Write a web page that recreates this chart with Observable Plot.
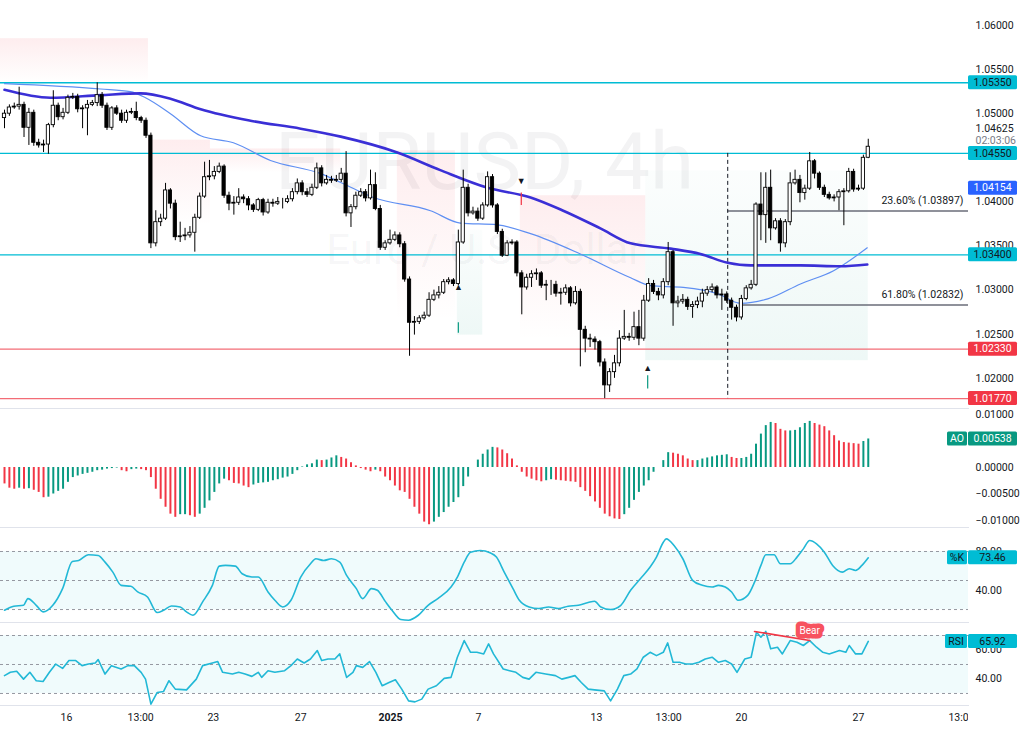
<!DOCTYPE html>
<html><head><meta charset="utf-8">
<script src="https://cdn.jsdelivr.net/npm/d3@7"></script>
<script src="https://cdn.jsdelivr.net/npm/@observablehq/plot@0.6"></script>
<style>
body{margin:0;background:#fff;width:1024px;height:730px;overflow:hidden;}
#chart svg{display:block;}
</style></head><body><div id="chart"></div>
<script>
// ---------------- DATA (EUR/USD 4h) ----------------
const firstOpen = 1.0495;
const close = [
1.0500,1.0507,1.0508,1.0510,1.0484,1.0501,1.0467,1.0464,1.0465,1.0487,
1.0509,1.0496,1.0501,1.0518,1.0519,1.0505,1.0506,1.0510,1.0512,1.0521,
1.0509,1.0484,1.0506,1.0500,1.0492,1.0501,1.0502,1.0495,1.0492,1.0475,
1.0353,1.0377,1.0381,1.0413,1.0398,1.0360,1.0361,1.0362,1.0365,1.0382,
1.0406,1.0428,1.0429,1.0434,1.0440,1.0407,1.0398,1.0399,1.0405,1.0403,
1.0396,1.0391,1.0402,1.0388,1.0399,1.0398,1.0400,1.0400,1.0403,1.0411,
1.0421,1.0411,1.0408,1.0416,1.0438,1.0421,1.0425,1.0424,1.0425,1.0432,
1.0387,1.0394,1.0407,1.0411,1.0404,1.0419,1.0392,1.0348,1.0353,1.0357,
1.0362,1.0352,1.0312,1.0263,1.0264,1.0268,1.0271,1.0289,1.0294,1.0297,
1.0309,1.0311,1.0307,1.0354,1.0416,1.0387,1.0389,1.0381,1.0396,1.0428,
1.0396,1.0366,1.0339,1.0353,1.0354,1.0319,1.0303,1.0314,1.0318,1.0319,
1.0305,1.0306,1.0306,1.0296,1.0297,1.0302,1.0285,1.0298,1.0255,1.0245,
1.0244,1.0241,1.0218,1.0192,1.0207,1.0217,1.0245,1.0247,1.0246,1.0258,
1.0245,1.0288,1.0307,1.0298,1.0294,1.0309,1.0343,1.0285,1.0287,1.0289,
1.0281,1.0283,1.0287,1.0296,1.0300,1.0303,1.0294,1.0295,1.0288,1.0280,
1.0269,1.0290,1.0302,1.0306,1.0397,1.0385,1.0416,1.0370,1.0378,1.0353,
1.0377,1.0421,1.0425,1.0410,1.0415,1.0446,1.0432,1.0416,1.0408,1.0404,
1.0405,1.0411,1.0412,1.0434,1.0414,1.0415,1.0450,1.04625];
const high = [
1.0504,1.0510,1.0512,1.0530,1.0513,1.0506,1.0504,1.0471,1.0470,1.0489,
1.0526,1.0512,1.0506,1.0521,1.0523,1.0522,1.0509,1.0515,1.0515,1.0535,
1.0524,1.0512,1.0508,1.0509,1.0504,1.0504,1.0506,1.0513,1.0497,1.0495,
1.0478,1.0390,1.0386,1.0421,1.0415,1.0402,1.0377,1.0370,1.0372,1.0386,
1.0410,1.0445,1.0447,1.0440,1.0444,1.0442,1.0411,1.0406,1.0415,1.0408,
1.0406,1.0398,1.0404,1.0404,1.0403,1.0403,1.0405,1.0404,1.0407,1.0415,
1.0426,1.0424,1.0415,1.0420,1.0444,1.0441,1.0430,1.0429,1.0430,1.0438,
1.0457,1.0397,1.0411,1.0415,1.0414,1.0436,1.0433,1.0396,1.0356,1.0368,
1.0366,1.0365,1.0355,1.0315,1.0270,1.0271,1.0275,1.0297,1.0300,1.0304,
1.0312,1.0314,1.0313,1.0368,1.0436,1.0420,1.0394,1.0393,1.0399,1.0434,
1.0431,1.0398,1.0369,1.0356,1.0357,1.0356,1.0322,1.0318,1.0322,1.0324,
1.0321,1.0311,1.0311,1.0310,1.0302,1.0306,1.0304,1.0304,1.0301,1.0259,
1.0250,1.0247,1.0243,1.0222,1.0211,1.0226,1.0254,1.0277,1.0251,1.0275,
1.0277,1.0294,1.0313,1.0311,1.0302,1.0313,1.0354,1.0345,1.0293,1.0295,
1.0292,1.0287,1.0292,1.0301,1.0304,1.0307,1.0305,1.0301,1.0298,1.0291,
1.0283,1.0294,1.0305,1.0311,1.0399,1.0433,1.0433,1.0436,1.0381,1.0381,
1.0380,1.0433,1.0436,1.0430,1.0419,1.0456,1.0448,1.0434,1.0419,1.0411,
1.0408,1.0414,1.0415,1.0438,1.0437,1.0419,1.0453,1.0471];
const low = [
1.0483,1.0497,1.0505,1.0504,1.0473,1.0464,1.0463,1.0461,1.0456,1.0454,
1.0484,1.0492,1.0493,1.0499,1.0516,1.0501,1.0483,1.0475,1.0508,1.0508,
1.0506,1.0481,1.0481,1.0498,1.0489,1.0489,1.0499,1.0492,1.0489,1.0472,
1.0347,1.0349,1.0372,1.0379,1.0392,1.0356,1.0354,1.0356,1.0359,1.0343,
1.0380,1.0404,1.0424,1.0425,1.0432,1.0404,1.0390,1.0385,1.0396,1.0398,
1.0390,1.0388,1.0389,1.0384,1.0386,1.0394,1.0396,1.0392,1.0398,1.0400,
1.0408,1.0407,1.0405,1.0406,1.0414,1.0417,1.0419,1.0421,1.0422,1.0422,
1.0383,1.0371,1.0391,1.0405,1.0400,1.0402,1.0390,1.0345,1.0345,1.0351,
1.0355,1.0348,1.0309,1.0225,1.0249,1.0261,1.0266,1.0269,1.0287,1.0290,
1.0295,1.0306,1.0304,1.0305,1.0352,1.0383,1.0385,1.0378,1.0379,1.0394,
1.0393,1.0363,1.0337,1.0338,1.0351,1.0315,1.0272,1.0300,1.0303,1.0311,
1.0302,1.0288,1.0294,1.0292,1.0283,1.0294,1.0281,1.0283,1.0213,1.0229,
1.0235,1.0232,1.0213,1.0177,1.0184,1.0200,1.0213,1.0243,1.0242,1.0243,
1.0237,1.0242,1.0286,1.0295,1.0288,1.0290,1.0305,1.0259,1.0280,1.0284,
1.0277,1.0268,1.0279,1.0280,1.0293,1.0297,1.0290,1.0277,1.0285,1.0266,
1.0264,1.0266,1.0288,1.0300,1.0304,1.0356,1.0353,1.0356,1.0368,1.0343,
1.0348,1.0373,1.0419,1.0399,1.0402,1.0413,1.0426,1.0413,1.0405,1.0402,
1.0400,1.0390,1.0373,1.0410,1.0411,1.0412,1.0413,1.0449];

// moving averages (bar index, value)
const maSlowI = [0,9.4,19.7,27.9,34,40.2,50.4,60.7,68.9,80.5,89.3,99,107.8,114.5,122.1,128.3,136.5,142.6,148.2,152.9,163.1,171.3,176.8];
const maSlowV = [1.0527,1.0518,1.0521,1.0523,1.0517,1.0505,1.0492,1.0483,1.0474,1.0456,1.0436,1.0416,1.0405,1.0390,1.0370,1.0353,1.0347,1.0341,1.0331,1.0328,1.0328,1.0327,1.0329];
const maFastI = [0,19.7,25.8,28.9,34,40.2,46.9,54.5,64.8,68.9,75.6,87.3,93.4,101,107.8,118,128.3,132.4,139.1,146.1,150.8,156.4,163.1,169.9,176.8];
const maFastV = [1.0534,1.0528,1.0525,1.0518,1.0500,1.0475,1.0467,1.0447,1.0432,1.0422,1.0405,1.0390,1.0376,1.0374,1.0364,1.0341,1.0314,1.0305,1.0303,1.0296,1.0285,1.0290,1.0307,1.0322,1.0348];

// trend-cloud shading zones (start bar, end bar, top price, bottom price)
const bearZoneS = [-0.82, 29.5, 42.2, 80.5, 105.7];
const bearZoneE = [29.5, 42.2, 68.9, 92.4, 131.4];
const bearZoneT = [1.0585, 1.0470, 1.0460, 1.0458, 1.0407];
const bearZoneB = [1.0535, 1.0373, 1.0433, 1.0265, 1.0243];
const bullZoneS = [92.8, 131.4];
const bullZoneE = [98.0, 177.0];
const bullZoneT = [1.0368, 1.0435];
const bullZoneB = [1.0249, 1.0220];

// horizontal levels
const cyanLevels = [1.0535, 1.0455, 1.0340];
const redLevels = [1.0233, 1.0177];
const blueLabel = 1.04154;
const fibLabel = ["23.60%", "61.80%"];
const fibPrice = [1.03897, 1.02832];
const fibStartI = [148.2, 150.8];
const swingLineI = 148.2;
const swingTop = 1.0455, swingBottom = 1.0177;
const countdown = "02:03:06";

// fractal markers
const upMarkI = [93, 131.8], upMarkP = [1.0303, 1.0212], upTickTop = [1.0263, 1.0203], upTickBot = [1.0251, 1.0188];
const dnMarkI = [105.9], dnMarkP = [1.0423], dnTickTop = [1.0410], dnTickBot = [1.0396];

// Awesome Oscillator
const ao = [
-0.0031,-0.0039,-0.0041,-0.0039,-0.0041,-0.0040,-0.0043,-0.0047,-0.0057,-0.0056,
-0.0050,-0.0045,-0.0041,-0.0028,-0.0019,-0.0016,-0.0013,-0.0011,-0.0009,-0.0006,
-0.0005,-0.0003,-0.0002,-0.0001,-0.0006,-0.0008,-0.0004,-0.0003,-0.0004,-0.0006,
-0.0019,-0.0041,-0.0060,-0.0075,-0.0088,-0.0094,-0.0089,-0.0089,-0.0091,-0.0094,
-0.0088,-0.0077,-0.0063,-0.0047,-0.0031,-0.0022,-0.0025,-0.0030,-0.0031,-0.0035,
-0.0038,-0.0033,-0.0030,-0.0029,-0.0028,-0.0025,-0.0023,-0.0020,-0.0018,-0.0013,
-0.0006,0.0001,0.0005,0.0007,0.0014,0.0013,0.0014,0.0018,0.0022,0.0019,
0.0016,0.0009,0.0003,-0.0002,-0.0005,-0.0008,-0.0005,-0.0008,-0.0018,-0.0025,
-0.0035,-0.0044,-0.0047,-0.0060,-0.0075,-0.0088,-0.0103,-0.0108,-0.0103,-0.0094,
-0.0085,-0.0075,-0.0066,-0.0057,-0.0036,-0.0018,0.0000,0.0014,0.0025,0.0033,
0.0038,0.0037,0.0033,0.0026,0.0016,0.0003,-0.0009,-0.0018,-0.0022,-0.0025,
-0.0027,-0.0025,-0.0023,-0.0024,-0.0025,-0.0026,-0.0027,-0.0028,-0.0038,-0.0045,
-0.0055,-0.0065,-0.0077,-0.0088,-0.0093,-0.0097,-0.0098,-0.0089,-0.0077,-0.0062,
-0.0047,-0.0035,-0.0025,-0.0009,0.0000,0.0013,0.0028,0.0027,0.0025,0.0022,
0.0016,0.0013,0.0013,0.0016,0.0018,0.0020,0.0022,0.0023,0.0024,0.0019,
0.0017,0.0017,0.0019,0.0025,0.0044,0.0063,0.0079,0.0085,0.0083,0.0072,
0.0069,0.0069,0.0070,0.0075,0.0083,0.0087,0.0083,0.0080,0.0077,0.0069,
0.0060,0.0050,0.0047,0.0046,0.0045,0.0044,0.0049,0.00538];

// Stochastic %K (bar index, value)
const stochI = [0,1.9,3.9,4.8,6.5,7.9,9.9,11.9,13.9,15.2,17.2,19.2,20.6,22.2,23.9,25.9,27.3,29.3,31.3,32.6,34.2,36.0,37.3,38.6,40.6,42.6,44.0,45.3,47.3,48.7,50.7,52.0,54.0,55.4,57.0,58.7,60.7,62.7,63.8,65.4,67.0,68.7,70.1,72.1,73.4,75.2,76.4,78.1,79.4,81.2,82.8,84.8,86.8,88.8,91.5,92.8,94.2,95.5,97.5,99.5,100.8,102.4,104.2,105.5,107.5,109.5,111.5,113.5,115.5,117.6,119.6,120.9,122.2,124.2,126.3,128.3,130.3,132.3,133.6,135.0,135.6,137.2,139.0,141.0,143.0,145.0,146.3,147.7,149.0,150.3,152.3,153.7,155.0,156.0,157.7,159.0,161.0,162.4,163.7,165.0,166.4,168.0,169.7,171.7,173.1,174.4,175.7,177];
const stochV = [19.3,23.4,24.4,31.3,24.4,17.6,24.4,41.6,69.7,70.7,76.6,75.9,69.0,58.7,45.0,44.0,38.2,33.0,16.9,19.3,23.7,22.7,17.6,14.1,27.9,45.0,64.9,65.6,64.9,57.0,53.6,53.6,38.2,29.6,22.7,29.6,53.6,67.3,72.5,70.7,72.5,69.0,55.3,41.6,31.3,41.6,39.9,27.9,19.3,9.7,9.0,14.1,24.4,31.3,43.3,53.6,69.0,79.3,81.0,78.6,74.2,58.7,41.6,29.6,22.7,21.0,22.7,21.0,23.4,24.4,27.2,28.6,22.7,20.0,24.4,39.9,51.9,63.9,74.2,89.6,93.0,86.2,72.5,50.2,45.0,43.3,45.0,43.3,38.2,29.6,34.7,48.4,65.6,76.6,76.6,67.3,67.3,74.2,82.7,91.3,87.9,79.3,65.6,58.7,62.2,60.4,65.6,73.46];
const stochLevels = [80, 50, 20];

// RSI (bar index, value)
const rsiI = [0,1.2,2.5,3.9,5.2,6.5,7.9,9.2,10.5,11.9,13.2,14.6,15.9,17.2,18.6,19.2,20.6,21.9,23.9,25.3,26.6,28.0,28.9,30.0,31.3,32.6,33.7,35.0,37.3,39.3,40.6,42.6,43.7,44.7,46.7,48.0,49.3,50.7,52.0,52.7,54.0,55.4,57.4,58.7,60.0,61.4,62.7,64.1,65.0,66.3,67.7,68.7,70.1,71.4,72.1,73.4,74.8,76.1,77.4,78.8,80.1,81.4,82.8,84.1,85.5,86.8,88.5,90.1,91.5,92.8,94.2,95.5,96.8,98.2,99.2,100.2,102.2,103.5,104.8,106.2,107.5,108.9,110.9,112.9,114.2,115.6,116.9,118.2,119.6,120.9,122.9,124.2,125.6,126.9,128.3,129.6,130.9,132.3,133.6,135.0,135.9,137.0,138.3,139.6,141.0,142.3,143.6,145.0,146.3,147.7,149.0,150.1,151.7,153.0,154.1,155.0,156.0,157.0,158.4,159.4,161.0,162.4,163.7,165.0,166.4,167.7,169.0,171.1,172.4,173.1,174.4,175.7,177];
const rsiV = [42.3,44.6,45.3,39.9,44.6,38.8,38.3,44.6,50.3,47.3,52.7,52.7,49.2,50.3,51.0,53.4,43.4,49.2,46.9,49.2,49.2,44.6,39.9,22.6,30.7,31.4,38.8,33.0,32.5,39.9,49.2,51.0,52.0,44.6,43.4,44.6,43.4,41.8,44.6,41.1,45.7,44.6,45.7,49.2,53.8,51.0,53.8,59.6,52.7,53.8,53.8,57.3,41.1,44.6,49.2,48.0,52.0,44.6,35.3,37.6,39.5,33.0,24.9,24.2,26.1,33.0,35.3,40.4,41.1,55.0,66.5,58.4,58.4,57.3,64.2,57.3,46.9,45.7,44.6,41.1,39.9,44.6,43.4,42.3,39.9,41.1,42.3,37.6,33.0,32.5,31.8,24.9,33.0,42.3,43.4,46.9,55.0,58.4,56.1,58.4,64.9,51.5,51.5,50.3,50.3,51.5,53.8,55.0,51.5,52.7,50.3,44.6,53.8,55.0,72.3,68.8,72.8,60.8,61.9,57.3,66.5,65.4,63.1,66.5,61.9,58.4,57.3,59.6,58.4,63.1,57.3,57.3,65.92];
const rsiLevels = [70, 50, 30];
const bearI = [153.7, 165.0], bearV = [72.8, 66.5];

// x axis ticks (bar-index position, label)
const xTickI = [12.7, 27.9, 42.8, 60.7, 79.1, 97.1, 121.3, 136.1, 151.0, 175.0, 196.1];
const xTickLab = ["16","13:00","23","27","2025","7","13","13:00","20","27","13:00"];

// axis ticks
const priceTicks = [1.06, 1.055, 1.05, 1.04, 1.035, 1.03, 1.025, 1.02];
const aoTicks = [0.01, 0, -0.005, -0.01];
const stochTicks = [80, 40];
const rsiTicks = [60, 40];

// ---------------- BUILD ----------------
const FONT = 'Roboto, "Liberation Sans", sans-serif';
const DARK = "#131722", CYAN = "#00bcd4", RED = "#f23645", GREEN = "#089981", LINE = "#22b8d6";
const W = 1024, MR = 56;
const xDomain = [-0.82, 197.54];
const style = {background: "transparent", overflow: "visible", fontFamily: FONT, fontSize: "10.5px", color: DARK};
const f5 = d3.format(".5f"), f2 = d3.format(".2f");

const candles = close.map((c, i) => ({i, o: i === 0 ? firstOpen : close[i - 1], c, h: high[i], l: low[i]}));
const maSlow = maSlowI.map((i, k) => ({i, v: maSlowV[k]}));
const maFast = maFastI.map((i, k) => ({i, v: maFastV[k]}));
const bearZones = bearZoneS.map((s, k) => ({s, e: bearZoneE[k], t: bearZoneT[k], b: bearZoneB[k]}));
const bullZones = bullZoneS.map((s, k) => ({s, e: bullZoneE[k], t: bullZoneT[k], b: bullZoneB[k]}));
const fib = fibLabel.map((label, k) => ({label, p: fibPrice[k], start: fibStartI[k]}));
const upMarks = upMarkI.map((i, k) => ({i, p: upMarkP[k], t1: upTickTop[k], t2: upTickBot[k]}));
const dnMarks = dnMarkI.map((i, k) => ({i, p: dnMarkP[k], t1: dnTickTop[k], t2: dnTickBot[k]}));
const aoData = ao.map((v, i) => ({i, v, up: i > 0 && v >= ao[i - 1]}));
const stoch = stochI.map((i, k) => ({i, v: stochV[k]}));
const rsi = rsiI.map((i, k) => ({i, v: rsiV[k]}));
const bear = bearI.map((i, k) => ({i, v: bearV[k]}));
const xTicks = xTickI.map((i, k) => ({i, label: xTickLab[k]}));

function gradients() {
  return () => {
    const defs = d3.create("svg:defs");
    const p = defs.append("linearGradient").attr("id", "gPink").attr("x1", 0).attr("y1", 0).attr("x2", 0).attr("y2", 1);
    p.append("stop").attr("offset", "0%").attr("stop-color", RED).attr("stop-opacity", 0.09);
    p.append("stop").attr("offset", "100%").attr("stop-color", RED).attr("stop-opacity", 0.0);
    const g = defs.append("linearGradient").attr("id", "gGreen").attr("x1", 0).attr("y1", 1).attr("x2", 0).attr("y2", 0);
    g.append("stop").attr("offset", "0%").attr("stop-color", GREEN).attr("stop-opacity", 0.07);
    g.append("stop").attr("offset", "100%").attr("stop-color", GREEN).attr("stop-opacity", 0.015);
    return defs.node();
  };
}

function boxes(items) {
  return (index, scales, values, dims) => {
    const g = d3.create("svg:g").attr("font-family", FONT).attr("font-size", 10.5);
    const x0 = dims.width - dims.marginRight;
    for (const it of items) {
      const y = scales.y(it.value);
      if (it.tag) {
        g.append("rect").attr("x", x0 - it.tagW - 1).attr("y", y - 7).attr("width", it.tagW).attr("height", 14).attr("fill", it.bg).attr("rx", 1.5);
        g.append("text").attr("x", x0 - 1 - it.tagW / 2).attr("y", y).attr("dy", "0.35em").attr("text-anchor", "middle").attr("fill", it.fg).text(it.tag);
      }
      g.append("rect").attr("x", x0).attr("y", y - 7).attr("width", 49).attr("height", 14).attr("fill", it.bg).attr("rx", 1.5);
      g.append("text").attr("x", x0 + 24.5).attr("y", y).attr("dy", "0.35em").attr("text-anchor", "middle").attr("fill", it.fg).text(it.text);
    }
    return g.node();
  };
}

// covers the price-scale column so that the last time label is cut at the pane edge
function scaleColumnCover() {
  return (index, scales, values, dims) => {
    const g = d3.create("svg:g");
    g.append("rect").attr("x", dims.width - dims.marginRight).attr("y", 1).attr("width", dims.marginRight).attr("height", dims.height).attr("fill", "#fff");
    return g.node();
  };
}

const chart = document.getElementById("chart");
const sep = "#e0e3eb";

// main price panel
chart.append(Plot.plot({
  width: W, height: 408, marginLeft: 0, marginRight: MR, marginTop: 0, marginBottom: 0, style,
  x: {domain: xDomain, axis: null},
  y: {domain: [1.01658, 1.06283], axis: "right", ticks: priceTicks, tickFormat: f5, tickSize: 0, tickPadding: 7, label: null},
  marks: [
    gradients(),
    Plot.rect(bearZones, {x1: "s", x2: "e", y1: "t", y2: "b", fill: "url(#gPink)"}),
    Plot.rect(bullZones, {x1: "s", x2: "e", y1: "t", y2: "b", fill: "url(#gGreen)"}),
    Plot.text(["EURUSD, 4h"], {text: d => d, frameAnchor: "top", dy: 163, lineAnchor: "middle", fontSize: 80, fill: DARK, fillOpacity: 0.05}),
    Plot.text(["Euro / U.S. Dollar"], {text: d => d, frameAnchor: "top", dy: 250, lineAnchor: "middle", fontSize: 42, fill: DARK, fillOpacity: 0.05}),
    Plot.ruleY(cyanLevels, {stroke: CYAN, strokeWidth: 1.4}),
    Plot.ruleY(redLevels, {stroke: "#f36c76", strokeWidth: 1.2}),
    Plot.ruleY(fib, {y: "p", x1: "start", x2: xDomain[1], stroke: "#6a6d78", strokeWidth: 1.6}),
    Plot.text(fib, {x: xDomain[1], y: "p", text: d => `${d.label} (${f5(d.p)})`, textAnchor: "end", dx: -5, dy: -10, fill: DARK, fontSize: 10.5}),
    Plot.ruleX([swingLineI], {y1: swingTop, y2: swingBottom, stroke: DARK, strokeDasharray: "4,3", strokeWidth: 1}),
    Plot.line(maFast, {x: "i", y: "v", stroke: "#5f8ff2", strokeWidth: 1.2, curve: "monotone-x"}),
    Plot.line(maSlow, {x: "i", y: "v", stroke: "#3a2fd6", strokeWidth: 2.6, curve: "monotone-x"}),
    Plot.ruleX(upMarks, {x: "i", y1: "t1", y2: "t2", stroke: GREEN, strokeWidth: 1.2}),
    Plot.ruleX(dnMarks, {x: "i", y1: "t1", y2: "t2", stroke: RED, strokeWidth: 1.2}),
    Plot.text(upMarks, {x: "i", y: "p", text: () => "▲", fontSize: 9, fill: DARK}),
    Plot.text(dnMarks, {x: "i", y: "p", text: () => "▼", fontSize: 9, fill: DARK}),
    Plot.ruleX(candles, {x: "i", y1: "l", y2: "h", stroke: "#000", strokeWidth: 1}),
    Plot.rect(candles, {x1: d => d.i - 0.33, x2: d => d.i + 0.33, y1: "o", y2: "c", fill: d => d.c >= d.o ? "#fff" : "#000", stroke: "#000", strokeWidth: 0.9}),
    Plot.text([close[close.length - 1]], {x: xDomain[1], y: d => d, text: d => f5(d), dx: 7, dy: -18, textAnchor: "start", fill: DARK}),
    Plot.text([close[close.length - 1]], {x: xDomain[1], y: d => d, text: () => countdown, dx: 7, dy: -6, textAnchor: "start", fill: "#787b86"}),
    boxes([
      ...cyanLevels.map(v => ({value: v, text: f5(v), bg: CYAN, fg: DARK})),
      {value: blueLabel, text: f5(blueLabel), bg: "#2962ff", fg: "#fff"},
      ...redLevels.map(v => ({value: v, text: f5(v), bg: RED, fg: "#fff"}))
    ])
  ]
}));

// AO panel
chart.append(Plot.plot({
  width: W, height: 119, marginLeft: 0, marginRight: MR, marginTop: 0, marginBottom: 0, style,
  x: {domain: xDomain, axis: null},
  y: {domain: [-0.01132, 0.01113], axis: "right", ticks: aoTicks, tickFormat: f5, tickSize: 0, tickPadding: 7, label: null},
  marks: [
    Plot.frame({anchor: "top", stroke: sep}),
    Plot.ruleX(aoData, {x: "i", y1: 0, y2: "v", stroke: d => d.up ? GREEN : RED, strokeWidth: 2}),
    boxes([{value: ao[ao.length - 1], text: f5(ao[ao.length - 1]), tag: "AO", tagW: 20, bg: GREEN, fg: "#fff"}])
  ]
}));

// Stochastic panel
chart.append(Plot.plot({
  width: W, height: 95, marginLeft: 0, marginRight: MR, marginTop: 0, marginBottom: 0, style,
  x: {domain: xDomain, axis: null},
  y: {domain: [6.6, 104.8], axis: "right", ticks: stochTicks, tickFormat: f2, tickSize: 0, tickPadding: 7, label: null},
  marks: [
    Plot.rect([{lo: stochLevels[2], hi: stochLevels[0]}], {y1: "lo", y2: "hi", fill: CYAN, fillOpacity: 0.06}),
    Plot.ruleY(stochLevels, {stroke: "#9598a1", strokeDasharray: "3,3"}),
    Plot.frame({anchor: "top", stroke: sep}),
    Plot.line(stoch, {x: "i", y: "v", stroke: LINE, strokeWidth: 1.6, curve: "monotone-x"}),
    boxes([{value: stochV[stochV.length - 1], text: f2(stochV[stochV.length - 1]), tag: "%K", tagW: 20, bg: CYAN, fg: DARK}])
  ]
}));

// RSI panel
chart.append(Plot.plot({
  width: W, height: 83, marginLeft: 0, marginRight: MR, marginTop: 0, marginBottom: 0, style,
  x: {domain: xDomain, axis: null},
  y: {domain: [21.7, 78.97], axis: "right", ticks: rsiTicks, tickFormat: f2, tickSize: 0, tickPadding: 7, label: null},
  marks: [
    Plot.rect([{lo: rsiLevels[2], hi: rsiLevels[0]}], {y1: "lo", y2: "hi", fill: CYAN, fillOpacity: 0.06}),
    Plot.ruleY(rsiLevels, {stroke: "#9598a1", strokeDasharray: "3,3"}),
    Plot.frame({anchor: "top", stroke: sep}),
    Plot.line(rsi, {x: "i", y: "v", stroke: LINE, strokeWidth: 1.6}),
    Plot.line(bear, {x: "i", y: "v", stroke: RED, strokeWidth: 1.6}),
    Plot.text([bear[1]], {x: "i", y: "v", text: () => "Bear", dy: -10, fill: "#fff", stroke: "#f7525f", strokeWidth: 9, strokeLinejoin: "round", paintOrder: "stroke", fontSize: 10}),
    boxes([{value: rsiV[rsiV.length - 1], text: f2(rsiV[rsiV.length - 1]), tag: "RSI", tagW: 22, bg: CYAN, fg: DARK}])
  ]
}));

// time axis
chart.append(Plot.plot({
  width: W, height: 25, marginLeft: 0, marginRight: MR, marginTop: 0, marginBottom: 0, style,
  x: {domain: xDomain, axis: null},
  marks: [
    Plot.frame({anchor: "top", stroke: sep}),
    Plot.text(xTicks.filter(d => d.label !== "2025"), {x: "i", text: "label", frameAnchor: "middle", fill: DARK}),
    Plot.text(xTicks.filter(d => d.label === "2025"), {x: "i", text: "label", frameAnchor: "middle", fill: DARK, fontWeight: "bold"}),
    scaleColumnCover()
  ]
}));
</script></body></html>
